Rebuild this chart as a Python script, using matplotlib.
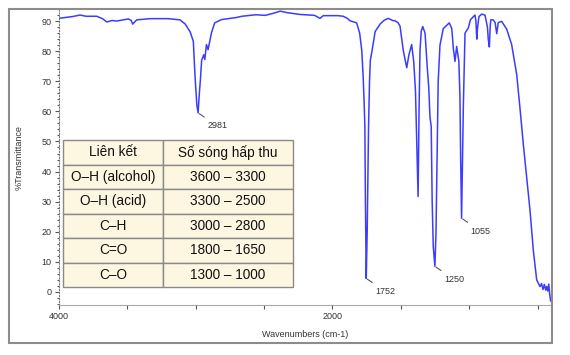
import numpy as np
import matplotlib
matplotlib.use('Agg')
import matplotlib.pyplot as plt
from matplotlib.patches import Rectangle

plt.rcParams['font.family'] = ['Liberation Sans', 'DejaVu Sans']

# spectrum (cm-1, %T)
wavenumber = [4000, 3950, 3900, 3844, 3800, 3722, 3680, 3649, 3610, 3576, 3530, 3491,
              3470, 3459, 3430, 3333, 3200, 3113, 3075, 3040, 3016, 3004, 2990, 2981,
              2972, 2965, 2955, 2940, 2932, 2920, 2908, 2896, 2884, 2860, 2810, 2700,
              2660, 2560, 2490, 2430, 2380, 2330, 2236, 2130, 2090, 2066, 1960, 1920,
              1890, 1871, 1822, 1800, 1785, 1775, 1768, 1762, 1758, 1752, 1745, 1735,
              1728, 1722, 1710, 1687, 1651, 1620, 1591, 1560, 1542, 1520, 1505, 1481,
              1456, 1440, 1420, 1405, 1392, 1383, 1373, 1366, 1359, 1350, 1339, 1322,
              1306, 1295, 1286, 1277, 1270, 1262, 1250, 1242, 1232, 1226, 1213, 1189,
              1145, 1127, 1115, 1103, 1091, 1075, 1067, 1062, 1055, 1048, 1042, 1030,
              1006, 990, 957, 950, 944, 938, 928, 908, 884, 866, 860, 852, 846, 842,
              823, 810, 798, 787, 762, 725, 689, 652, 628, 604, 579, 555, 531, 506,
              482, 470, 460, 450, 440, 433, 425, 418, 410, 404]
transmittance = [90.9, 91.2, 91.5, 92.0, 91.6, 91.6, 90.8, 89.7, 90.2, 90.0, 90.4, 90.7,
                 90.2, 89.0, 90.4, 90.8, 90.8, 90.4, 89.0, 86.5, 83.3, 72.0, 62.0, 59.5,
                 66.0, 70.0, 77.0, 78.8, 77.2, 82.2, 80.5, 83.3, 86.0, 89.4, 90.5, 91.2,
                 91.6, 92.1, 91.9, 92.6, 93.3, 92.8, 92.2, 91.9, 90.9, 91.8, 91.8, 91.6,
                 90.9, 90.1, 89.4, 86.0, 80.4, 72.0, 63.8, 55.0, 30.0, 4.5, 20.0, 55.0,
                 70.0, 77.0, 80.0, 86.5, 89.0, 90.3, 90.9, 90.2, 90.1, 89.5, 88.3, 80.2,
                 74.5, 78.8, 82.2, 76.6, 66.7, 50.0, 31.7, 60.0, 80.0, 86.6, 88.2, 86.0,
                 74.6, 68.0, 58.0, 55.0, 30.0, 15.0, 8.5, 20.0, 50.0, 70.0, 82.0, 87.5,
                 89.4, 87.6, 80.8, 76.6, 81.6, 76.6, 65.0, 45.0, 24.5, 45.0, 62.0, 86.0,
                 87.7, 90.5, 92.0, 90.0, 84.0, 88.0, 91.5, 92.3, 92.0, 88.0, 84.0, 81.4,
                 88.0, 90.4, 90.4, 89.5, 85.8, 89.5, 89.9, 87.3, 82.2, 72.2, 61.0, 49.2,
                 38.0, 27.2, 14.0, 4.0, 1.8, 2.8, 0.8, 2.5, 0.6, 1.8, 0.3, 2.6, -1.0, -3.0]

peak_labels = [2981, 1752, 1250, 1055]

table_header = ['Liên kết', 'Số sóng hấp thu']
bond_names = ['O–H (alcohol)', 'O–H (acid)', 'C–H', 'C=O', 'C–O']
bond_ranges = ['3600 – 3300', '3300 – 2500', '3000 – 2800', '1800 – 1650', '1300 – 1000']

fig = plt.figure(figsize=(5.7, 3.55), dpi=100)
ax = fig.add_axes([0.103, 0.142, 0.864, 0.830])

ax.plot(wavenumber, transmittance, color='#3c3cff', lw=1.1)
ax.set_xlim(4000, 400)
ax.set_ylim(-4.2, 93.7)

ax.set_xticks([4000, 3500, 3000, 2500, 2000, 1500, 1000, 500])
ax.set_xticklabels(['4000', '', '', '', '2000', '', '', ''])
ax.set_yticks(range(0, 100, 10))
ax.set_yticks(np.arange(-4, 94, 2), minor=True)
ax.tick_params(labelsize=6.5, colors='#555555', labelcolor='#333333', length=3, width=0.8, pad=2)
ax.tick_params(axis='y', which='minor', length=1.5, width=0.8, colors='#555555')

for s in ['top', 'right']:
    ax.spines[s].set_visible(False)
ax.spines['left'].set_color('#777777')
ax.spines['left'].set_linestyle(':')
ax.spines['bottom'].set_color('#aaaaaa')

ax.set_xlabel('Wavenumbers (cm-1)', fontsize=6.5, color='#333333', labelpad=7)
ax.set_ylabel('%Transmittance', fontsize=6.5, color='#333333', labelpad=13)

for p in peak_labels:
    t = np.interp(p, wavenumber[::-1], transmittance[::-1])
    ax.annotate(str(p), xy=(p, t), xytext=(9, -13), textcoords='offset pixels',
                ha='left', va='center', fontsize=6.5, color='#333333',
                arrowprops=dict(arrowstyle='-', color='#555555', lw=0.8,
                                shrinkA=2, shrinkB=1))

cells = [[n, r] for n, r in zip(bond_names, bond_ranges)]
tb = ax.table(cellText=cells, colLabels=table_header, cellLoc='center',
              colWidths=[0.4346, 0.5654], bbox=[0.0093, 0.059, 0.466, 0.4995])
tb.auto_set_font_size(False)
for (r, c), cell in tb.get_celld().items():
    cell.set_facecolor('#fdf6e1')
    cell.set_edgecolor('#8a8a8a')
    cell.set_linewidth(1.0)
    cell.get_text().set_fontsize(9.8)
    cell.get_text().set_color('#111111')

fig.patches.append(Rectangle((0.0158, 0.034), 0.9526, 0.9408, transform=fig.transFigure,
                             fill=False, edgecolor='#8c8c8c', lw=1.5))

fig.savefig('out.png', dpi=100)
